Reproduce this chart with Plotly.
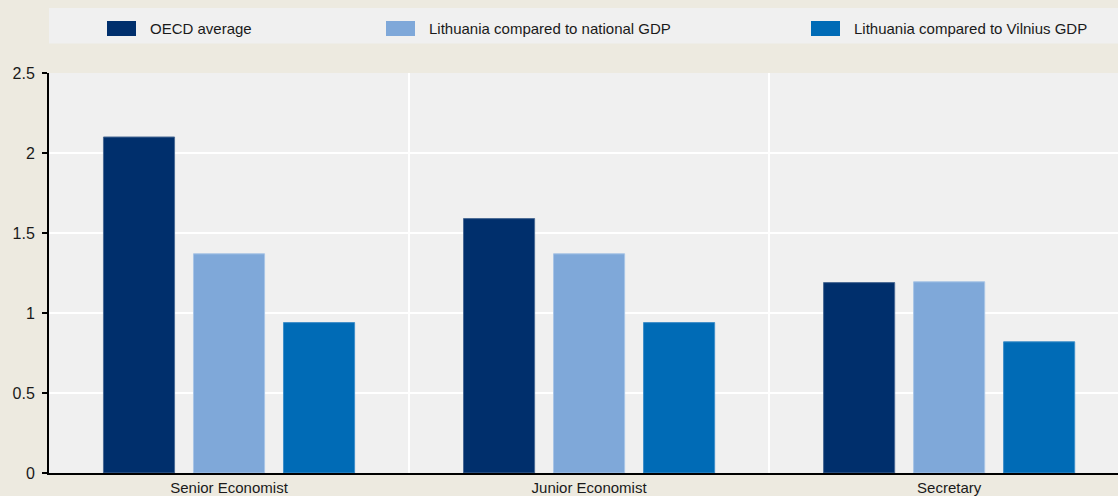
import plotly.graph_objects as go

# Salary ratios by position
categories = ["Senior Economist", "Junior Economist", "Secretary"]
series_names = [
    "OECD average",
    "Lithuania compared to national GDP",
    "Lithuania compared to Vilnius GDP",
]
oecd_average = [2.10, 1.59, 1.19]
lt_national_gdp = [1.37, 1.37, 1.195]
lt_vilnius_gdp = [0.94, 0.94, 0.82]
y_ticks = [0, 0.5, 1, 1.5, 2, 2.5]
y_tick_labels = ["0", "0.5", "1", "1.5", "2", "2.5"]

colors = ["#002F6C", "#7FA8D9", "#006BB6"]
edge_colors = ["#4A6A94", "#A9C5E6", "#3F8FC9"]
series_values = [oecd_average, lt_national_gdp, lt_vilnius_gdp]

W, H = 1118, 496
FONT = "Liberation Sans Narrow, Arial Narrow, Liberation Sans, Arial, sans-serif"

fig = go.Figure()
for name, vals, col, ecol in zip(series_names, series_values, colors, edge_colors):
    fig.add_trace(go.Bar(
        x=categories, y=vals, name=name,
        marker=dict(color=col, line=dict(color=ecol, width=1)),
        showlegend=False,
    ))

# Legend panel drawn as shapes + text across the top band
shapes = [dict(type="rect", xref="paper", yref="paper",
               x0=0, x1=1,
               y0=1 + (73 - 43.5) / 400, y1=1 + (73 - 8) / 400,
               fillcolor="#F0F0F0", line=dict(width=0), layer="below")]
annotations = []
legend_x = [107, 386, 811]
for name, col, lx in zip(series_names, colors, legend_x):
    x0 = (lx - 49) / (W - 49)
    x1 = (lx + 29 - 49) / (W - 49)
    shapes.append(dict(type="rect", xref="paper", yref="paper",
                       x0=x0, x1=x1,
                       y0=1 + (73 - 36) / 400, y1=1 + (73 - 21) / 400,
                       fillcolor=col, line=dict(width=0)))
    annotations.append(dict(xref="paper", yref="paper",
                            x=(lx + 41 - 49) / (W - 49), y=1 + (73 - 28.5) / 400,
                            text=name, showarrow=False, xanchor="left", yanchor="middle",
                            font=dict(family=FONT, size=15, color="#1A1A1A")))

fig.update_layout(
    width=W, height=H,
    margin=dict(l=49, r=0, t=73, b=23, pad=0),
    paper_bgcolor="#EDEAE0",
    plot_bgcolor="#F0F0F0",
    barmode="group",
    bargap=0.25,
    bargroupgap=0.21,
    font=dict(family=FONT, size=15, color="#1A1A1A"),
    shapes=shapes,
    annotations=annotations,
    xaxis=dict(
        range=[-0.5, 2.469],
        tickson="boundaries",
        showgrid=True, gridcolor="#FFFFFF", gridwidth=2,
        ticks="", showline=True, linecolor="#000000", linewidth=2,
        tickfont=dict(family=FONT, size=15, color="#1A1A1A"),
        automargin=False,
        fixedrange=True,
    ),
    yaxis=dict(
        range=[0, 2.5],
        tickvals=y_ticks, ticktext=y_tick_labels,
        showgrid=True, gridcolor="#FFFFFF", gridwidth=2,
        ticks="outside", ticklen=5, tickwidth=2, tickcolor="#000000",
        showline=True, linecolor="#000000", linewidth=2,
        zeroline=False,
        tickfont=dict(family=FONT, size=16, color="#1A1A1A"),
        ticklabelstandoff=4,
        automargin=False,
    ),
)

fig.write_html("out.html")
